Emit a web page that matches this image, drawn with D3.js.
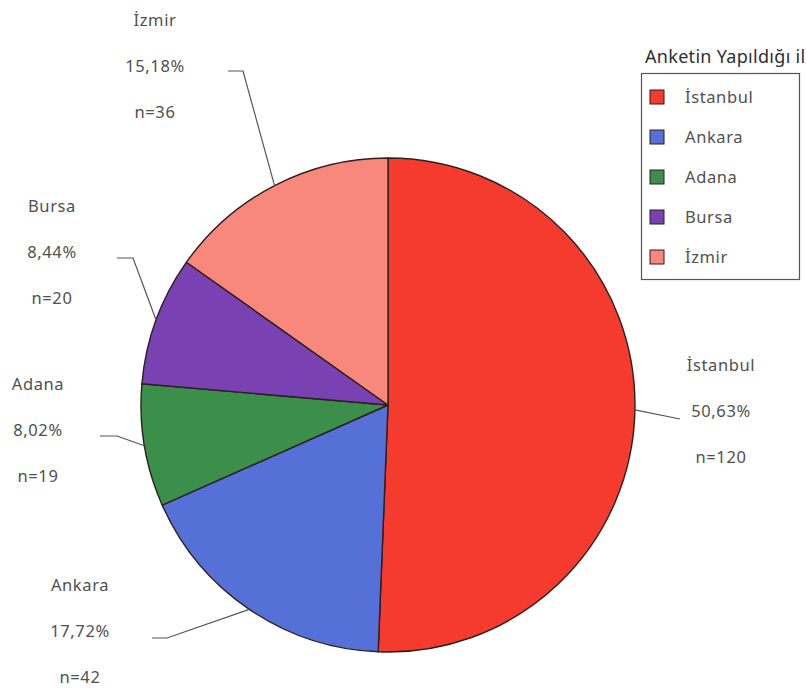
<!DOCTYPE html>
<html>
<head>
<meta charset="utf-8">
<script src="https://cdn.jsdelivr.net/npm/d3@7"></script>
<style>
  html, body { margin: 0; padding: 0; background: #fff; }
  svg text { font-family: "Noto Sans", "Open Sans", sans-serif; }
</style>
</head>
<body>
<svg id="chart" width="806" height="693"></svg>
<script>
// Survey responses by city
const cities = ["İstanbul", "Ankara", "Adana", "Bursa", "İzmir"];
const counts = [120, 42, 19, 20, 36];
const percentLabels = ["50,63%", "17,72%", "8,02%", "8,44%", "15,18%"];
const colors = ["#f53b2d", "#5571d8", "#3b8f4a", "#7a41b2", "#f8887b"];
const legendTitle = "Anketin Yapıldığı il";

const svg = d3.select("#chart");
const cx = 388, cy = 405, radius = 247;

const pie = d3.pie().sort(null).value(d => d.n);
const data = cities.map((c, i) => ({ city: c, n: counts[i], pct: percentLabels[i], color: colors[i] }));
const arcs = pie(data);
const arc = d3.arc().innerRadius(0).outerRadius(radius);

const g = svg.append("g").attr("transform", `translate(${cx},${cy})`);
g.selectAll("path.slice")
  .data(arcs)
  .join("path")
  .attr("class", "slice")
  .attr("d", arc)
  .attr("fill", d => d.data.color)
  .attr("stroke", "#2e1e1e")
  .attr("stroke-width", 1.4)
  .attr("stroke-linejoin", "round");

// Label blocks: centre x of the text column, baseline of first line, and the leader elbow
const labelLayout = {
  "İstanbul": { x: 721, y: 371, elbow: [680, 419], end: [680, 419] },
  "Ankara":   { x: 80,  y: 591, elbow: [167, 638], end: [152, 638] },
  "Adana":    { x: 38,  y: 390, elbow: [117, 436], end: [100, 436] },
  "Bursa":    { x: 52,  y: 212, elbow: [133, 258], end: [117, 258] },
  "İzmir":    { x: 155, y: 26,  elbow: [243, 71],  end: [228, 71] }
};
const lineGap = 46;

arcs.forEach(a => {
  const L = labelLayout[a.data.city];
  const mid = (a.startAngle + a.endAngle) / 2;
  const sx = cx + radius * Math.sin(mid);
  const sy = cy - radius * Math.cos(mid);
  svg.append("path")
    .attr("d", d3.line()([[sx, sy], L.elbow, L.end]))
    .attr("fill", "none")
    .attr("stroke", "#555")
    .attr("stroke-width", 1.2);
  const lines = [a.data.city, a.data.pct, "n=" + a.data.n];
  svg.selectAll(null)
    .data(lines)
    .enter()
    .append("text")
    .attr("x", L.x)
    .attr("y", (d, i) => L.y + i * lineGap)
    .attr("text-anchor", "middle")
    .attr("font-size", 16.5)
    .attr("letter-spacing", 0.6)
    .attr("fill", "#505050")
    .text(d => d);
});

// Legend
const lg = svg.append("g");
lg.append("text")
  .attr("x", 645).attr("y", 63)
  .attr("font-size", 18)
  .attr("letter-spacing", 0.3)
  .attr("fill", "#2e2e2e")
  .text(legendTitle);
lg.append("rect")
  .attr("x", 641.5).attr("y", 73.5)
  .attr("width", 158).attr("height", 206)
  .attr("fill", "#fff")
  .attr("stroke", "#555")
  .attr("stroke-width", 1.2);
const items = lg.selectAll("g.item")
  .data(data)
  .join("g")
  .attr("class", "item")
  .attr("transform", (d, i) => `translate(650, ${90 + i * 40})`);
items.append("rect")
  .attr("width", 14).attr("height", 14)
  .attr("fill", d => d.color)
  .attr("stroke", "#2e1e1e")
  .attr("stroke-width", 1);
items.append("text")
  .attr("x", 35).attr("y", 13)
  .attr("font-size", 16.5)
  .attr("letter-spacing", 0.6)
  .attr("fill", "#505050")
  .text(d => d.city);
</script>
</body>
</html>
